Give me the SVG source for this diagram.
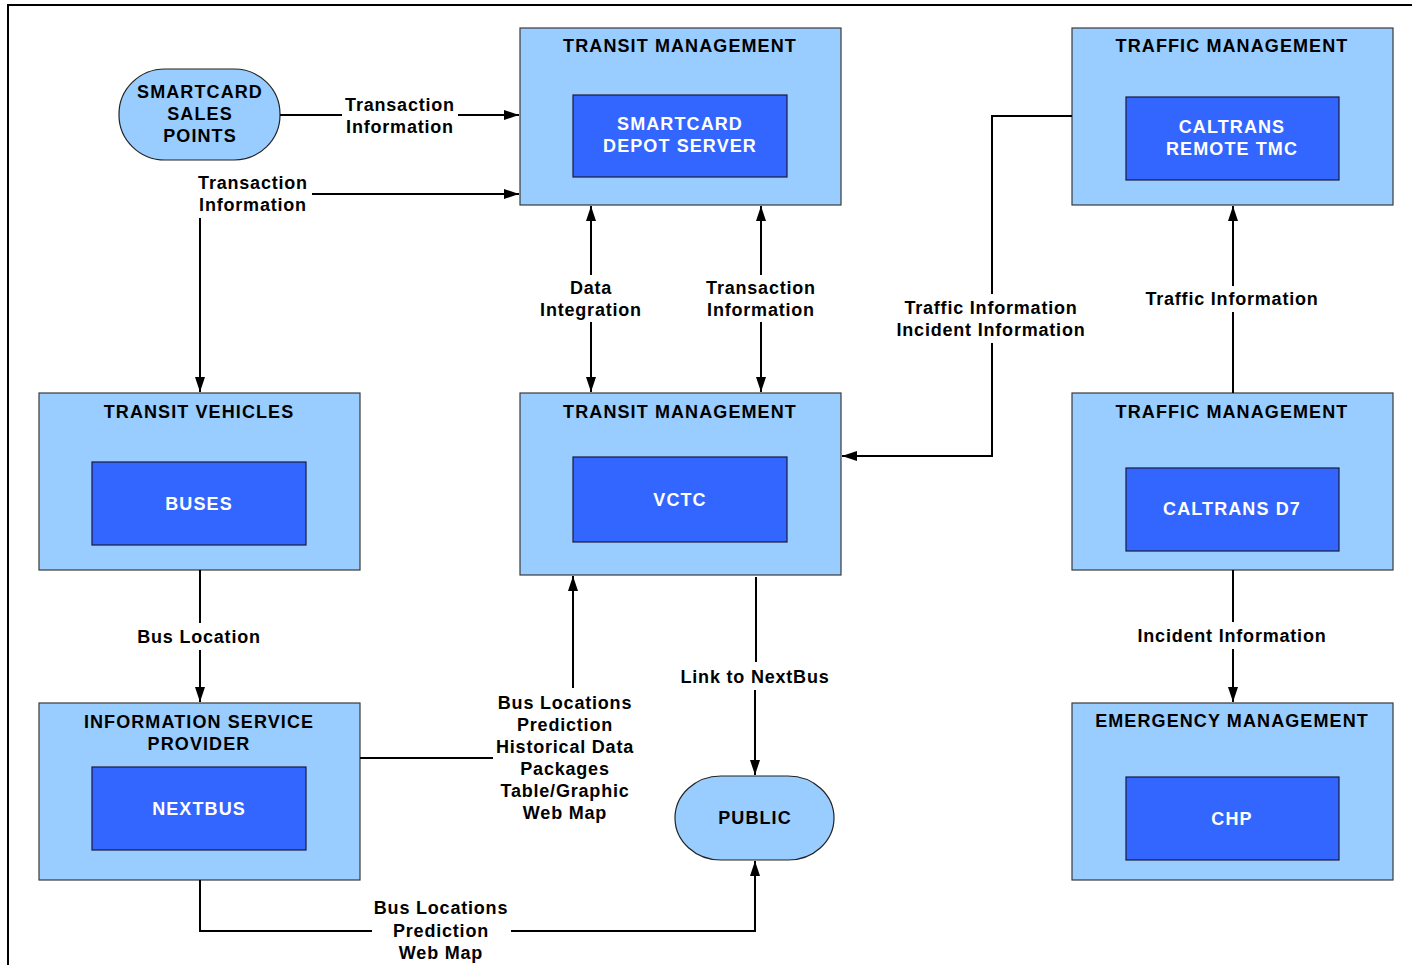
<svg xmlns="http://www.w3.org/2000/svg" width="1412" height="965" viewBox="0 0 1412 965">
<defs>
<marker id="arr" viewBox="0 0 15 10" refX="15" refY="5" markerWidth="15" markerHeight="10" markerUnits="userSpaceOnUse" orient="auto-start-reverse">
<path d="M0,0 L15,5 L0,10 z" fill="#000"/>
</marker>
<style>
.outer{fill:#99CCFF;stroke:#3a3a3a;stroke-width:1.2}
.inner{fill:#3366FF;stroke:#1a1a3a;stroke-width:1.2}
.pill{fill:#99CCFF;stroke:#222;stroke-width:1.2}
.t{font-family:"Liberation Sans",Arial,sans-serif;font-weight:bold;font-size:18px;text-anchor:middle;fill:#000;letter-spacing:1.1px}
.w{font-family:"Liberation Sans",Arial,sans-serif;font-weight:bold;font-size:18px;text-anchor:middle;fill:#fff;letter-spacing:1.1px}
.l{font-family:"Liberation Sans",Arial,sans-serif;font-weight:bold;font-size:18px;text-anchor:middle;fill:#000;letter-spacing:0.8px}
.c{fill:none;stroke:#000;stroke-width:2}
</style>
</defs>
<rect width="1412" height="965" fill="#fff"/>
<path d="M8,965 V5 H1412" fill="none" stroke="#000" stroke-width="2"/>

<g id="smartcard-sales">
<rect class="pill" x="119" y="69" width="161" height="91" rx="46" ry="45"/>
<text class="t" x="200" y="98">SMARTCARD</text>
<text class="t" x="200" y="120">SALES</text>
<text class="t" x="200" y="142">POINTS</text>
</g>

<g id="transit-mgmt-smartcard">
<rect class="outer" x="520" y="28" width="321" height="177"/>
<text class="t" x="680" y="52">TRANSIT MANAGEMENT</text>
<rect class="inner" x="573" y="95" width="214" height="82"/>
<text class="w" x="680" y="130">SMARTCARD</text>
<text class="w" x="680" y="152">DEPOT SERVER</text>
</g>

<g id="traffic-mgmt-remote">
<rect class="outer" x="1072" y="28" width="321" height="177"/>
<text class="t" x="1232" y="52">TRAFFIC MANAGEMENT</text>
<rect class="inner" x="1126" y="97" width="213" height="83"/>
<text class="w" x="1232" y="133">CALTRANS</text>
<text class="w" x="1232" y="155">REMOTE TMC</text>
</g>

<g id="transit-vehicles">
<rect class="outer" x="39" y="393" width="321" height="177"/>
<text class="t" x="199" y="418">TRANSIT VEHICLES</text>
<rect class="inner" x="92" y="462" width="214" height="83"/>
<text class="w" x="199" y="510">BUSES</text>
</g>

<g id="transit-mgmt-vctc">
<rect class="outer" x="520" y="393" width="321" height="182"/>
<text class="t" x="680" y="418">TRANSIT MANAGEMENT</text>
<rect class="inner" x="573" y="457" width="214" height="85"/>
<text class="w" x="680" y="506">VCTC</text>
</g>

<g id="traffic-mgmt-d7">
<rect class="outer" x="1072" y="393" width="321" height="177"/>
<text class="t" x="1232" y="418">TRAFFIC MANAGEMENT</text>
<rect class="inner" x="1126" y="468" width="213" height="83"/>
<text class="w" x="1232" y="515">CALTRANS D7</text>
</g>

<g id="isp">
<rect class="outer" x="39" y="703" width="321" height="177"/>
<text class="t" x="199" y="728">INFORMATION SERVICE</text>
<text class="t" x="199" y="750">PROVIDER</text>
<rect class="inner" x="92" y="767" width="214" height="83"/>
<text class="w" x="199" y="815">NEXTBUS</text>
</g>

<g id="emergency-mgmt">
<rect class="outer" x="1072" y="703" width="321" height="177"/>
<text class="t" x="1232" y="727">EMERGENCY MANAGEMENT</text>
<rect class="inner" x="1126" y="777" width="213" height="83"/>
<text class="w" x="1232" y="825">CHP</text>
</g>

<g id="public">
<rect class="pill" x="675" y="776" width="159" height="84" rx="46" ry="42"/>
<text class="t" x="755" y="824">PUBLIC</text>
</g>

<g id="connectors">
<path class="c" d="M280,115 H342"/>
<path class="c" d="M458,115 H519" marker-end="url(#arr)"/>
<path class="c" d="M312,194 H519" marker-end="url(#arr)"/>
<path class="c" d="M200,218 V392" marker-end="url(#arr)"/>
<path class="c" d="M591,275 V206" marker-end="url(#arr)"/>
<path class="c" d="M591,322 V392" marker-end="url(#arr)"/>
<path class="c" d="M761,275 V206" marker-end="url(#arr)"/>
<path class="c" d="M761,322 V392" marker-end="url(#arr)"/>
<path class="c" d="M1072,116 H992 V294"/>
<path class="c" d="M992,343 V456 H842" marker-end="url(#arr)"/>
<path class="c" d="M1233,393 V312"/>
<path class="c" d="M1233,286 V206" marker-end="url(#arr)"/>
<path class="c" d="M1233,570 V622"/>
<path class="c" d="M1233,649 V702" marker-end="url(#arr)"/>
<path class="c" d="M200,570 V623"/>
<path class="c" d="M200,650 V702" marker-end="url(#arr)"/>
<path class="c" d="M360,758 H493"/>
<path class="c" d="M573,688 V576" marker-end="url(#arr)"/>
<path class="c" d="M756,577 V662"/>
<path class="c" d="M755,690 V775" marker-end="url(#arr)"/>
<path class="c" d="M200,880 V931 H372"/>
<path class="c" d="M511,931 H755 V861" marker-end="url(#arr)"/>

<text class="l" x="400" y="111">Transaction</text>
<text class="l" x="400" y="133">Information</text>
<text class="l" x="253" y="189">Transaction</text>
<text class="l" x="253" y="211">Information</text>
<text class="l" x="591" y="294">Data</text>
<text class="l" x="591" y="316">Integration</text>
<text class="l" x="761" y="294">Transaction</text>
<text class="l" x="761" y="316">Information</text>
<text class="l" x="991" y="314">Traffic Information</text>
<text class="l" x="991" y="336">Incident Information</text>
<text class="l" x="1232" y="305">Traffic Information</text>
<text class="l" x="1232" y="642">Incident Information</text>
<text class="l" x="199" y="643">Bus Location</text>
<text class="l" x="565" y="709">Bus Locations</text>
<text class="l" x="565" y="731">Prediction</text>
<text class="l" x="565" y="753">Historical Data</text>
<text class="l" x="565" y="775">Packages</text>
<text class="l" x="565" y="797">Table/Graphic</text>
<text class="l" x="565" y="819">Web Map</text>
<text class="l" x="755" y="683">Link to NextBus</text>
<text class="l" x="441" y="914">Bus Locations</text>
<text class="l" x="441" y="937">Prediction</text>
<text class="l" x="441" y="959">Web Map</text>
</g>
</svg>
